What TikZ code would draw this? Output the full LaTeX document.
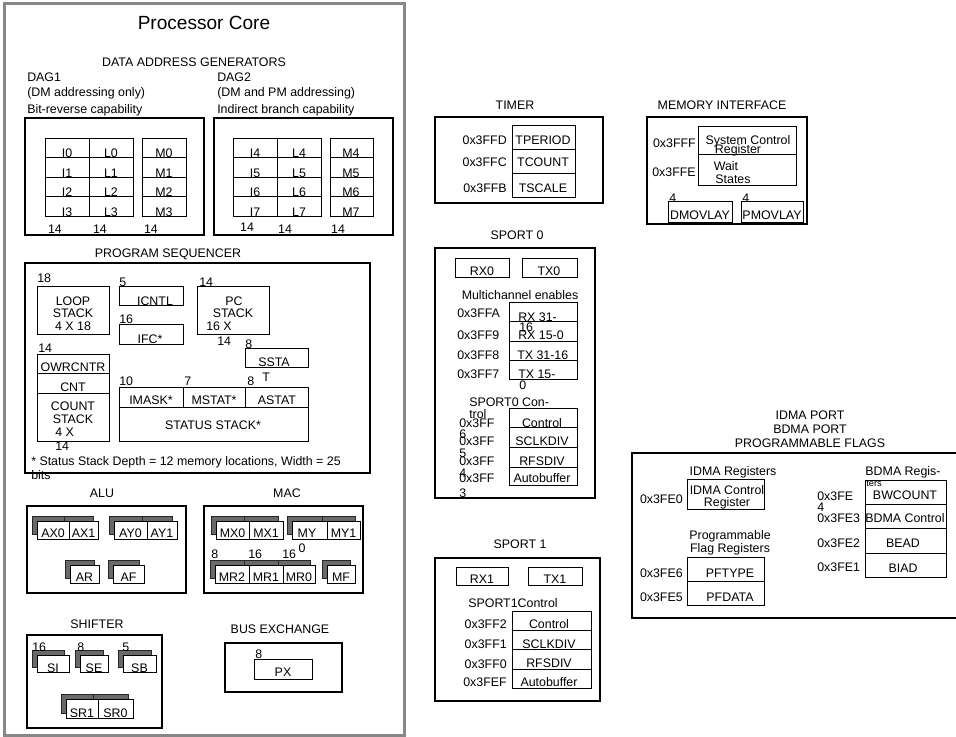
\documentclass[tikz,border=0pt]{standalone}
\usepackage{fontspec}
\setmainfont{Liberation Sans}
\definecolor{coregray}{RGB}{135,135,135}
\definecolor{shgray}{RGB}{105,105,105}
\newcommand\shadowreg[4]{\draw[shreg] ({#1-5},{#2-5}) rectangle ({#3-5},{#4-5});}
\newcommand\frontreg[7]{\draw[reg,fill=white] (#1,#2) rectangle (#3,#4); \node (#5) at ({(#1+#3)/2},{#4-#7}) {#6};}
\begin{document}
\begin{tikzpicture}[x=0.75pt,y=-0.75pt,
 every node/.style={inner sep=0pt, font=\fontsize{9.3}{10}\selectfont, text height=6.7pt, text depth=0pt},
 grp/.style={draw=black, line width=1.2pt},
 reg/.style={draw=black, line width=0.6pt},
 shreg/.style={draw=black!85, fill=shgray, line width=0.6pt},
 core/.style={draw=coregray, line width=2.3pt},
 ttl/.style={font=\fontsize{14.3}{16}\selectfont, text height=10.3pt},
 small/.style={font=\fontsize{7}{8}\selectfont, text height=5pt}]
\useasboundingbox (0,0) rectangle (956,737);
% ---------------- Processor core
\draw[core] (4.5,3.5) rectangle (404.5,735.5);
\node[ttl] (coretitle) at (204,23) {Processor Core};
\node (dagtitle) at (194,62) {DATA ADDRESS GENERATORS};
\node[anchor=west] (dag1a) at (27,77) {DAG1};
\node[anchor=west] (dag1b) at (27,92) {(DM addressing only)};
\node[anchor=west] (dag1c) at (27,109) {Bit-reverse capability};
\node[anchor=west] (dag2a) at (217,77) {DAG2};
\node[anchor=west] (dag2b) at (217,92) {(DM and PM addressing)};
\node[anchor=west] (dag2c) at (217,109) {Indirect branch capability};
\draw[grp] (25,118) rectangle (204,235);
\draw[grp] (214,118) rectangle (393,235);
\foreach \r in {0,1,2,3}{%
 \pgfmathsetmacro\ya{138+19.5*\r}
 \pgfmathsetmacro\yb{157.5+19.5*\r}
 \pgfmathsetmacro\yt{153.5+19.5*\r}
 \pgfmathtruncatemacro\rr{\r+4}
 \draw[reg] (45,\ya) rectangle (89,\yb) (89,\ya) rectangle (133,\yb) (142,\ya) rectangle (186,\yb);
 \draw[reg] (233,\ya) rectangle (277,\yb) (277,\ya) rectangle (321,\yb) (330,\ya) rectangle (373,\yb);
 \node (dI\r) at (67,\yt) {I\r};
 \node (dL\r) at (111,\yt) {L\r};
 \node (dM\r) at (164,\yt) {M\r};
 \node (dI\rr) at (255,\yt) {I\rr};
 \node (dL\rr) at (299,\yt) {L\rr};
 \node (dM\rr) at (351,\yt) {M\rr};
}
\node (w1) at (55,229) {14};
\node (w2) at (100,229) {14};
\node (w3) at (151,229) {14};
\node (w4) at (247,227) {14};
\node (w5) at (285,229) {14};
\node (w6) at (338,229) {14};
% ---------------- Program sequencer
\node (pstitle) at (168,253) {PROGRAM SEQUENCER};
\draw[grp] (25,263) rectangle (370,473);
\draw[reg] (37,286) rectangle (109,334);
\node[anchor=west] (l18) at (37,278) {18};
\node (loop1) at (73,301) {LOOP};
\node (loop2) at (73,313) {STACK};
\node (loop3) at (73,326) {4 X 18};
\draw[reg] (119,286) rectangle (183,305);
\node[anchor=west] (i5) at (119,282) {5};
\node (icntl) at (155,301) {ICNTL};
\draw[reg] (119,324) rectangle (183,344);
\node[anchor=west] (i16) at (119,319) {16};
\node (ifc) at (150,339) {IFC*};
\draw[reg] (197,286) rectangle (269,334);
\node[anchor=west] (pc14) at (199,282) {14};
\node (pc1) at (234,301) {PC};
\node (pc2) at (233,313) {STACK};
\node[anchor=west] (pc3) at (206,326) {16 X};
\node[anchor=west] (pc4) at (217,341) {14};
\draw[reg] (245,348) rectangle (308,367);
\node[anchor=west] (ss8) at (245,344) {8};
\node (sst1) at (274,362) {SSTA};
\node[anchor=west] (sst2) at (262,377) {T};
\draw[reg] (37,354) rectangle (109,441);
\draw[reg] (37,373) -- (109,373) (37,393) -- (109,393);
\node[anchor=west] (c14a) at (38,348) {14};
\node (owr) at (73,367) {OWRCNTR};
\node (cnt) at (73,387) {CNT};
\node (cs1) at (73,406) {COUNT};
\node (cs2) at (73,419) {STACK};
\node[anchor=west] (cs3) at (55,432) {4 X};
\node[anchor=west] (cs4) at (55,446) {14};
\draw[reg] (119,387) rectangle (308,441);
\draw[reg] (119,407) -- (308,407) (183,387) -- (183,407) (245,387) -- (245,407);
\node[anchor=west] (st10) at (119,381) {10};
\node[anchor=west] (st7) at (184,381) {7};
\node[anchor=west] (st8) at (247,381) {8};
\node (imask) at (151,400) {IMASK*};
\node (mstat) at (214,400) {MSTAT*};
\node (astat) at (277,400) {ASTAT};
\node (sstack) at (213,425) {STATUS STACK*};
\node[anchor=west] (fn1) at (31,461) {* Status Stack Depth = 12 memory locations, Width = 25};
\node[anchor=west] (fn2) at (31,475) {bits};
% ---------------- ALU / MAC
\node (alutitle) at (102,493) {ALU};
\draw[grp] (27,506) rectangle (186,593);
\node (mactitle) at (287,493) {MAC};
\draw[grp] (204,506) rectangle (363,593);
\shadowreg{37}{521}{69}{539}\shadowreg{69}{521}{98}{539}
\shadowreg{114}{521}{147}{539}\shadowreg{147}{521}{177}{539}
\shadowreg{70}{565}{99}{583}\shadowreg{113}{565}{144}{583}
\shadowreg{216}{521}{249}{539}\shadowreg{249}{521}{283}{539}
\shadowreg{292}{521}{327}{539}\shadowreg{327}{521}{360}{539}
\shadowreg{215}{565}{249}{583}\shadowreg{249}{565}{283}{583}\shadowreg{283}{565}{315}{583}
\shadowreg{327}{565}{355}{583}
\frontreg{37}{521}{69}{539}{ax0}{AX0}{5.5}
\frontreg{69}{521}{98}{539}{ax1}{AX1}{5.5}
\frontreg{114}{521}{147}{539}{ay0}{AY0}{5.5}
\frontreg{147}{521}{177}{539}{ay1}{AY1}{5.5}
\frontreg{70}{565}{99}{583}{ar}{AR}{5.5}
\frontreg{113}{565}{144}{583}{af}{AF}{5.5}
\frontreg{216}{521}{249}{539}{mx0}{MX0}{5.5}
\frontreg{249}{521}{283}{539}{mx1}{MX1}{5.5}
\draw[reg,fill=white] (292,521) rectangle (327,539);
\node (my0) at (307,533.5) {MY};
\node (my0b) at (302,548) {0};
\frontreg{327}{521}{360}{539}{my1}{MY1}{5.5}
\frontreg{215}{565}{249}{583}{mr2}{MR2}{5.5}
\frontreg{249}{565}{283}{583}{mr1}{MR1}{5.5}
\frontreg{283}{565}{315}{583}{mr0}{MR0}{5.5}
\frontreg{327}{565}{355}{583}{mf}{MF}{5.5}
\node[anchor=west] (mr2w) at (211,554) {8};
\node[anchor=west] (mr1w) at (248,554) {16};
\node[anchor=west] (mr0w) at (282,554) {16};
% ---------------- Shifter
\node (shtitle) at (97,624) {SHIFTER};
\draw[grp] (27,635) rectangle (162,728);
\shadowreg{37}{655}{69}{672}\shadowreg{80}{655}{108}{672}\shadowreg{123}{655}{156}{672}
\shadowreg{66}{699}{98}{718}\shadowreg{98}{699}{133}{718}
\frontreg{37}{655}{69}{672}{si}{SI}{4}
\frontreg{80}{655}{108}{672}{se}{SE}{4}
\frontreg{123}{655}{156}{672}{sb}{SB}{4}
\frontreg{66}{699}{98}{718}{sr1}{SR1}{4.5}
\frontreg{98}{699}{133}{718}{sr0}{SR0}{4.5}
\node[anchor=west] (siw) at (32,647) {16};
\node[anchor=west] (sew) at (77,647) {8};
\node[anchor=west] (sbw) at (122,647) {5};
% ---------------- Bus exchange
\node (bxtitle) at (280,629) {BUS EXCHANGE};
\draw[grp] (225,643) rectangle (342,692);
\draw[reg] (254,659) rectangle (312,679);
\node[anchor=west] (pxw) at (255,654) {8};
\node (px) at (283,672) {PX};
% ---------------- Timer
\node (tmtitle) at (515,105) {TIMER};
\draw[grp] (435,117) rectangle (603,203);
\draw[reg] (512,125) rectangle (575,149) (512,149) rectangle (575,173) (512,173) rectangle (575,197);
\node (tper) at (543,140) {TPERIOD};
\node (tcnt) at (543,162) {TCOUNT};
\node (tscl) at (543,188) {TSCALE};
\node[anchor=east] (a3ffd) at (507,140) {0x3FFD};
\node[anchor=east] (a3ffc) at (507,162) {0x3FFC};
\node[anchor=east] (a3ffb) at (507,188) {0x3FFB};
% ---------------- Memory interface
\node (mitile) at (722,105) {MEMORY INTERFACE};
\draw[grp] (647,117) rectangle (807,224);
\draw[reg] (698,126) rectangle (796,154) (698,154) rectangle (796,185);
\node (sys1) at (748,140) {System Control};
\node (sys2) at (738,149) {Register};
\node (wait1) at (726,166) {Wait};
\node (wait2) at (733,179) {States};
\node[anchor=east] (a3fff) at (696,143) {0x3FFF};
\node[anchor=east] (a3ffe) at (696,172) {0x3FFE};
\draw[reg] (668,201) rectangle (732,222) (741,201) rectangle (803,222);
\node[anchor=west] (dmw) at (669,198) {4};
\node[anchor=west] (pmw) at (742,198) {4};
\node (dmov) at (700,215) {DMOVLAY};
\node (pmov) at (772,215) {PMOVLAY};
% ---------------- SPORT 0
\node (sp0title) at (517,235) {SPORT 0};
\draw[grp] (435,248) rectangle (595,498);
\draw[reg] (455,258) rectangle (509,277) (522,258) rectangle (577,277);
\node (rx0) at (482,271) {RX0};
\node (tx0) at (549,271) {TX0};
\node (mce) at (520,295) {Multichannel enables};
\draw[reg] (509,302) rectangle (577,321) (509,321) rectangle (577,341) (509,341) rectangle (577,360) (509,360) rectangle (577,379);
\node[anchor=west] (a3ffa) at (457,313) {0x3FFA};
\node[anchor=west] (a3ff9) at (457,335) {0x3FF9};
\node[anchor=west] (a3ff8) at (457,355) {0x3FF8};
\node[anchor=west] (a3ff7) at (457,374) {0x3FF7};
\node[anchor=west] (rx31a) at (518,317) {RX 31-};
\node[anchor=west] (rx31b) at (519,327) {16};
\node[anchor=west] (rx15) at (518,335) {RX 15-0};
\node[anchor=west] (tx31) at (517,355) {TX 31-16};
\node[anchor=west] (tx15a) at (518,374) {TX 15-};
\node[anchor=west] (tx15b) at (519,385) {0};
\node[anchor=west] (sp0c1) at (469,402) {SPORT0 Con-};
\node[anchor=west] (sp0c2) at (469,414) {trol};
\draw[reg] (509,408) rectangle (577,427) (509,427) rectangle (577,447) (509,447) rectangle (577,467) (509,467) rectangle (577,485);
\node (s0ctl) at (542,423) {Control};
\node (s0sclk) at (542,441) {SCLKDIV};
\node (s0rfs) at (542,461) {RFSDIV};
\node (s0ab) at (542,478) {Autobuffer};
\node[anchor=west] (a3ff6a) at (459,423) {0x3FF};
\node[anchor=west] (a3ff6b) at (459,434) {6};
\node[anchor=west] (a3ff5a) at (459,441) {0x3FF};
\node[anchor=west] (a3ff5b) at (459,453) {5};
\node[anchor=west] (a3ff4a) at (459,461) {0x3FF};
\node[anchor=west] (a3ff4b) at (459,473) {4};
\node[anchor=west] (a3ff3a) at (459,478) {0x3FF};
\node[anchor=west] (a3ff3b) at (459,493) {3};
% ---------------- SPORT 1
\node (sp1title) at (520,544) {SPORT 1};
\draw[grp] (435,558) rectangle (600,701);
\draw[reg] (456,567) rectangle (508,585) (528,567) rectangle (582,585);
\node (rx1) at (482,579) {RX1};
\node (tx1) at (555,579) {TX1};
\node (sp1c) at (513,603) {SPORT1Control};
\draw[reg] (512,611) rectangle (591,630) (512,630) rectangle (591,649) (512,649) rectangle (591,669) (512,669) rectangle (591,688);
\node (s1ctl) at (549,624) {Control};
\node (s1sclk) at (549,644) {SCLKDIV};
\node (s1rfs) at (549,663) {RFSDIV};
\node (s1ab) at (549,682) {Autobuffer};
\node[anchor=east] (a3ff2) at (507,624) {0x3FF2};
\node[anchor=east] (a3ff1) at (507,644) {0x3FF1};
\node[anchor=east] (a3ff0) at (507,664) {0x3FF0};
\node[anchor=east] (a3fef) at (507,682) {0x3FEF};
% ---------------- IDMA / BDMA / flags
\node (idt1) at (810,415) {IDMA PORT};
\node (idt2) at (810,429) {BDMA PORT};
\node (idt3) at (810,443) {PROGRAMMABLE FLAGS};
\draw[grp] (962,453) -- (632,453) -- (632,618) -- (962,618);
\node (idreg) at (733,471) {IDMA Registers};
\draw[reg] (687,479) rectangle (764,509);
\node (idc1) at (727,490) {IDMA Control};
\node (idc2) at (727,502) {Register};
\node[anchor=east] (a3fe0) at (683,499) {0x3FE0};
\node (pf1) at (730,535) {Programmable};
\node (pf2) at (730,548) {Flag Registers};
\draw[reg] (687,557) rectangle (764,581) (687,581) rectangle (764,605);
\node (pftype) at (730,573) {PFTYPE};
\node (pfdata) at (730,597) {PFDATA};
\node[anchor=east] (a3fe6) at (683,573) {0x3FE6};
\node[anchor=east] (a3fe5) at (683,597) {0x3FE5};
\node (bdreg) at (903,471) {BDMA Regis-};
\node[small,anchor=west] (bdters) at (866,483) {ters};
\draw[reg] (865,480) rectangle (946,504) (865,504) rectangle (946,528) (865,528) rectangle (946,553) (865,553) rectangle (946,577);
\node (bwc) at (905,495) {BWCOUNT};
\node (bdc) at (905,518) {BDMA Control};
\node (bead) at (903,543) {BEAD};
\node (biad) at (903,568) {BIAD};
\node[anchor=west] (a3fe4a) at (817,496) {0x3FE};
\node[anchor=west] (a3fe4b) at (817,507) {4};
\node[anchor=west] (a3fe3) at (817,518) {0x3FE3};
\node[anchor=west] (a3fe2) at (817,543) {0x3FE2};
\node[anchor=west] (a3fe1) at (817,567) {0x3FE1};
\end{tikzpicture}
\end{document}
